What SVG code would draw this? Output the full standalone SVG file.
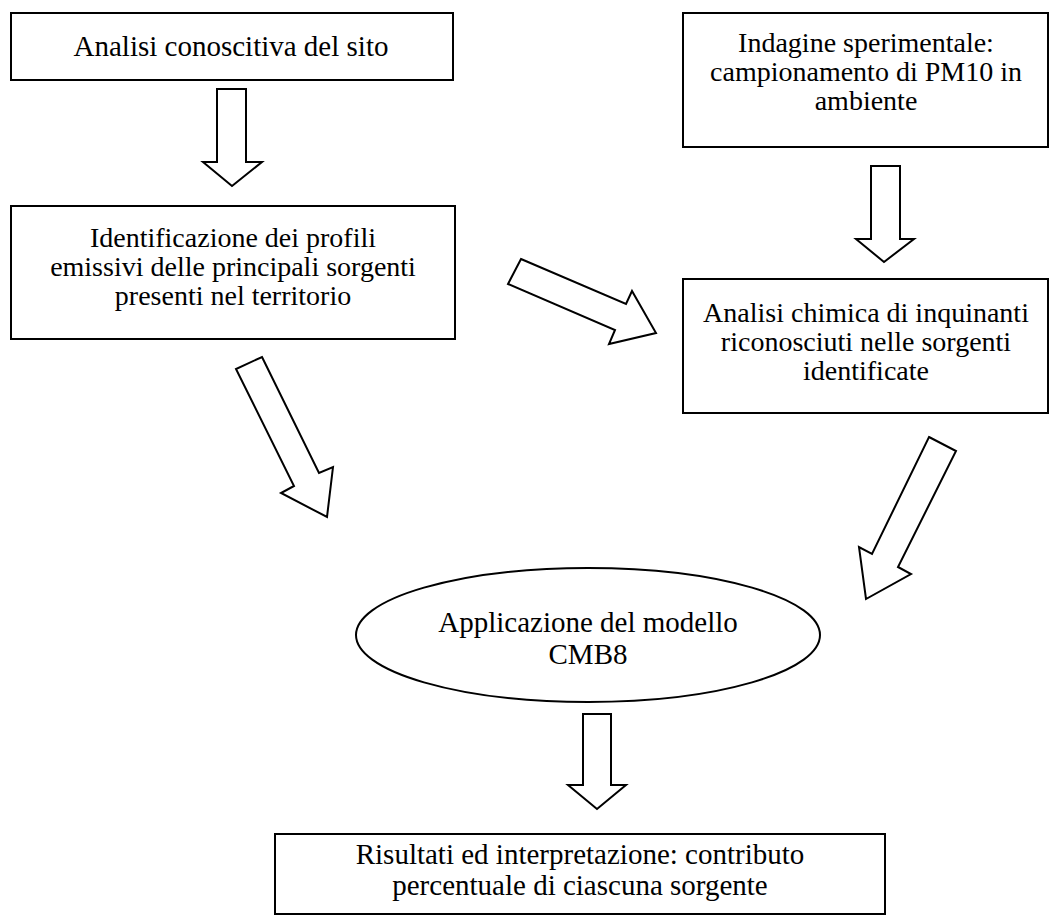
<svg xmlns="http://www.w3.org/2000/svg" width="1055" height="920" viewBox="0 0 1055 920">
<style>
.box{fill:#fff;stroke:#000;stroke-width:2}
.arr{fill:#fff;stroke:#000;stroke-width:2;stroke-linejoin:miter}
.t{font-family:"Liberation Serif","Times New Roman",serif;font-size:28px;fill:#000;text-anchor:middle}
.big{font-size:29px}
</style>
<rect width="1055" height="920" fill="#fff"/>
<g id="n1"><rect class="box" x="11" y="13" width="442" height="67"/>
<text class="t big" x="231" y="56">Analisi conoscitiva del sito</text></g>
<g id="n2"><rect class="box" x="11" y="206" width="444" height="133"/>
<text class="t" x="233" y="247">Identificazione dei profili</text>
<text class="t" x="233" y="276">emissivi delle principali sorgenti</text>
<text class="t" x="233" y="305">presenti nel territorio</text></g>
<g id="n3"><rect class="box" x="683" y="13" width="365" height="134"/>
<text class="t" x="866" y="52">Indagine sperimentale:</text>
<text class="t" x="866" y="81">campionamento di PM10 in</text>
<text class="t" x="866" y="110">ambiente</text></g>
<g id="n4"><rect class="box" x="683" y="279" width="365" height="134"/>
<text class="t" x="866" y="322">Analisi chimica di inquinanti</text>
<text class="t" x="866" y="351">riconosciuti nelle sorgenti</text>
<text class="t" x="866" y="380">identificate</text></g>
<g id="n5"><ellipse class="box" cx="588" cy="635" rx="232" ry="67"/>
<text class="t big" x="588" y="632">Applicazione del modello</text>
<text class="t big" x="588" y="664">CMB8</text></g>
<g id="n6"><rect class="box" x="275" y="834" width="610" height="80"/>
<text class="t big" x="580" y="864">Risultati ed interpretazione: contributo</text>
<text class="t big" x="580" y="895">percentuale di ciascuna sorgente</text></g>
<g id="connectors">
<polygon class="arr" points="217,89 246,89 246,162 262,162 232,186 203,162 217,162"/>
<polygon class="arr" points="871,166 900,166 900,239 914,239 884,262 856,239 871,239"/>
<polygon class="arr" points="521,259 626,304 632,291 656,333 609,344 615,330 508,284"/>
<polygon class="arr" points="262,357 319,473 333,467 327,517 281,493 294,486 236,369"/>
<polygon class="arr" points="929,437 956,451 898,567 911,574 866,599 859,547 872,554"/>
<polygon class="arr" points="583,714 611,714 611,785 626,785 597,809 568,785 583,785"/>
</g>
</svg>
